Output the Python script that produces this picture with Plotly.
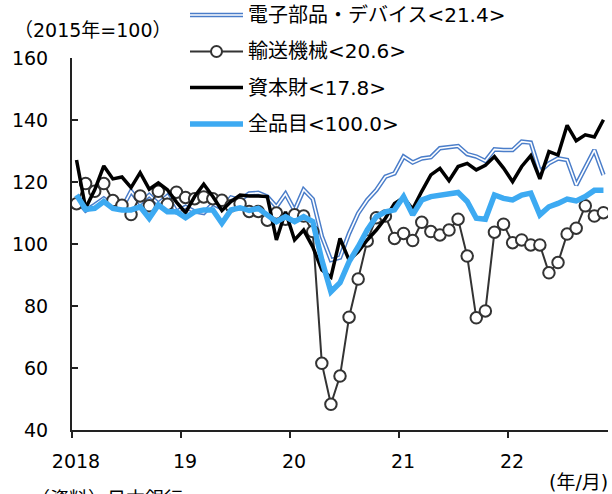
import plotly.graph_objects as go

# Monthly index values, 2015 = 100, Jan 2018 .. Nov 2022
months = list(range(59))

electronics = [114.2, 110.8, 112.6, 114.7, 112.6, 111.5, 117.0, 113.1, 115.8, 113.0,
               115.5, 110.4, 112.0, 110.5, 110.0, 113.0, 111.5, 115.0, 114.2, 116.3,
               116.5, 115.3, 112.0, 116.2, 110.8, 117.5, 114.5, 102.5, 94.8, 95.6,
               103.4, 109.9, 114.2, 117.4, 121.7, 122.8, 128.2, 126.3, 127.6, 128.0,
               130.9, 131.2, 131.6, 129.0, 128.2, 126.8, 130.5, 130.3, 130.3, 133.0,
               132.7, 123.4, 126.0, 127.6, 127.1, 119.0, 124.9, 130.3, 122.3]

transport = [113.0, 119.5, 117.0, 119.5, 114.0, 112.5, 109.5, 115.5, 112.3, 117.0,
             112.8, 116.7, 115.0, 114.6, 115.2, 114.6, 114.1, 112.3, 113.0, 110.5,
             110.5, 107.7, 110.0, 108.0, 109.4, 109.0, 104.0, 61.5, 48.3, 57.4,
             76.4, 88.7, 101.0, 108.5, 109.0, 101.8, 103.4, 101.1, 107.0, 104.0,
             102.9, 104.5, 108.0, 96.1, 76.2, 78.4, 103.8, 106.4, 100.4, 101.3,
             99.7, 99.7, 90.7, 94.0, 103.2, 105.1, 112.3, 109.0, 110.1]

capital = [127.1, 111.5, 117.5, 125.2, 121.0, 121.6, 118.2, 123.0, 117.7, 119.7,
           117.5, 113.5, 110.1, 115.3, 119.3, 115.3, 110.8, 113.7, 115.8, 115.5,
           115.5, 115.3, 101.3, 110.4, 101.3, 104.5, 99.1, 91.6, 89.3, 101.8,
           94.8, 97.5, 101.3, 104.5, 108.3, 113.1, 115.0, 111.3, 117.0, 122.3,
           124.4, 120.4, 125.0, 126.0, 123.9, 125.4, 128.2, 124.5, 120.1, 125.0,
           128.5, 121.0, 129.8, 128.7, 138.3, 133.3, 135.2, 134.5, 140.1]

all_items = [115.8, 111.2, 111.5, 113.7, 111.5, 111.0, 111.0, 112.0, 108.3, 112.6,
             110.4, 110.4, 108.5, 110.4, 111.0, 111.0, 106.7, 111.0, 111.7, 110.8,
             111.5, 109.4, 107.2, 108.8, 107.2, 108.8, 107.2, 94.8, 84.6, 87.5,
             94.3, 99.1, 104.5, 108.8, 110.4, 111.0, 115.3, 109.4, 114.2, 115.3,
             115.6, 115.9, 116.6, 113.7, 108.3, 108.0, 115.8, 114.7, 114.2, 115.8,
             116.4, 109.4, 112.0, 113.1, 114.5, 113.9, 115.3, 117.3, 117.3]

series_names = ["電子部品・デバイス<21.4>", "輸送機械<20.6>", "資本財<17.8>", "全品目<100.0>"]
year_ticks = [0, 12, 24, 36, 48]
year_labels = ["2018", "19", "20", "21", "22"]
y_ticks = [40, 60, 80, 100, 120, 140, 160]

FONT = "DejaVu Sans, Noto Sans CJK JP"
BLUE_DARK = "#4A7DC9"
BLUE_LIGHT = "#3DAAF2"
INK = "#222222"

# each month sits at the middle of its slot on the axis
x = [m + 0.5 for m in months]

fig = go.Figure()
fig.add_trace(go.Scatter(x=x, y=electronics, mode="lines",
                         line=dict(color=BLUE_DARK, width=4.5), showlegend=False))
fig.add_trace(go.Scatter(x=x, y=electronics, mode="lines",
                         line=dict(color="white", width=1.6), showlegend=False))
fig.add_trace(go.Scatter(x=x, y=transport, mode="lines+markers",
                         line=dict(color="#333333", width=2),
                         marker=dict(symbol="circle", size=11.5, color="white",
                                     line=dict(color="#333333", width=2)),
                         showlegend=False))
fig.add_trace(go.Scatter(x=x, y=capital, mode="lines",
                         line=dict(color="black", width=3.5), showlegend=False))
fig.add_trace(go.Scatter(x=x, y=all_items, mode="lines",
                         line=dict(color=BLUE_LIGHT, width=5.5), showlegend=False))

W, H = 612, 494
ML, MR, MT, MB = 72, 4, 58, 64
PW, PH = W - ML - MR, H - MT - MB


def px(xp):
    return (xp - ML) / PW


def py(yp):
    return (H - MB - yp) / PH


# legend drawn as sample lines plus labels
shapes = []
annotations = []
rows = [15, 51.5, 87.5, 124]
x0, x1 = 190, 243
for name, yr in zip(series_names, rows):
    annotations.append(dict(x=px(246), y=py(yr), xref="paper", yref="paper",
                            text=name, showarrow=False, xanchor="left",
                            yanchor="middle", font=dict(size=20, color="black", family=FONT)))

shapes.append(dict(type="line", xref="paper", yref="paper", x0=px(x0), x1=px(x1),
                   y0=py(rows[0]), y1=py(rows[0]), line=dict(color=BLUE_DARK, width=4.5)))
shapes.append(dict(type="line", xref="paper", yref="paper", x0=px(x0), x1=px(x1),
                   y0=py(rows[0]), y1=py(rows[0]), line=dict(color="white", width=1.6)))
shapes.append(dict(type="line", xref="paper", yref="paper", x0=px(x0), x1=px(x1),
                   y0=py(rows[1]), y1=py(rows[1]), line=dict(color="#333333", width=2)))
shapes.append(dict(type="circle", xref="paper", yref="paper",
                   x0=px(216.5 - 5.5), x1=px(216.5 + 5.5),
                   y0=py(rows[1] + 5.5), y1=py(rows[1] - 5.5),
                   fillcolor="white", line=dict(color="#333333", width=2)))
shapes.append(dict(type="line", xref="paper", yref="paper", x0=px(x0), x1=px(x1),
                   y0=py(rows[2]), y1=py(rows[2]), line=dict(color="black", width=3.5)))
shapes.append(dict(type="line", xref="paper", yref="paper", x0=px(x0), x1=px(x1),
                   y0=py(rows[3]), y1=py(rows[3]), line=dict(color=BLUE_LIGHT, width=5.5)))

annotations.append(dict(x=px(12), y=py(30), xref="paper", yref="paper",
                        text="（2015年=100）", showarrow=False, xanchor="left",
                        yanchor="middle", font=dict(size=19, color="black", family=FONT)))
annotations.append(dict(x=px(610), y=py(482), xref="paper", yref="paper",
                        text="(年/月)", showarrow=False, xanchor="right",
                        yanchor="middle", font=dict(size=19, color="black", family=FONT)))
annotations.append(dict(x=px(29), y=py(486), xref="paper", yref="paper",
                        text="（資料）日本銀行", showarrow=False, xanchor="left",
                        yanchor="top", font=dict(size=19, color="black", family=FONT)))

fig.update_layout(
    width=W, height=H,
    margin=dict(l=ML, r=MR, t=MT, b=MB),
    paper_bgcolor="white", plot_bgcolor="white",
    font=dict(family=FONT, size=19, color="black"),
    showlegend=False,
    shapes=shapes,
    annotations=annotations,
    xaxis=dict(range=[0, 59], showgrid=False, zeroline=False,
               showline=True, linecolor=INK, linewidth=2,
               ticks="outside", ticklen=6, tickwidth=2, tickcolor=INK,
               tickvals=year_ticks, ticktext=year_labels,
               ticklabelshift=4, ticklabelstandoff=7,
               tickfont=dict(size=19, family=FONT, color="black")),
    yaxis=dict(range=[40, 160], showgrid=False, zeroline=False,
               showline=True, linecolor=INK, linewidth=2,
               ticks="inside", ticklen=6, tickwidth=2, tickcolor=INK,
               tickvals=y_ticks, ticklabelstandoff=18,
               tickfont=dict(size=19, family=FONT, color="black")),
)

fig.write_html("out.html")
